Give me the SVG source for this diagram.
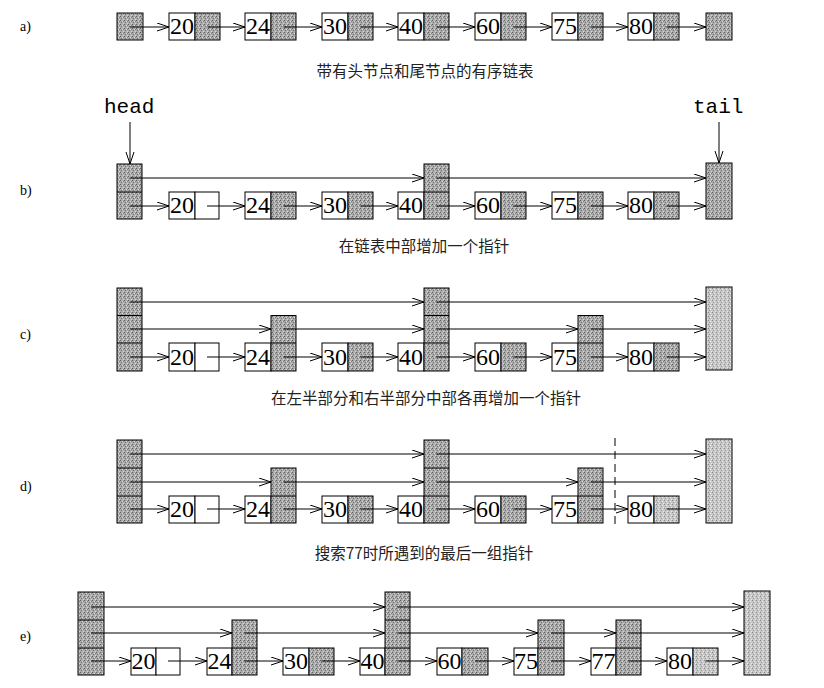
<svg xmlns="http://www.w3.org/2000/svg" width="824" height="688" viewBox="0 0 824 688">
<defs>
<pattern id="stip" width="4" height="4" patternUnits="userSpaceOnUse">
<rect width="4" height="4" fill="#ababab"/>
<rect x="0" y="0" width="1" height="1" fill="#5e5e5e"/>
<rect x="2" y="1" width="1" height="1" fill="#dcdcdc"/>
<rect x="1" y="2" width="1" height="1" fill="#707070"/>
<rect x="3" y="3" width="1" height="1" fill="#d6d6d6"/>
<rect x="3" y="1" width="1" height="1" fill="#808080"/>
</pattern>
<pattern id="stipL" width="4" height="4" patternUnits="userSpaceOnUse">
<rect width="4" height="4" fill="#c6c6c6"/>
<rect x="0" y="0" width="1" height="1" fill="#888"/>
<rect x="2" y="1" width="1" height="1" fill="#eee"/>
<rect x="1" y="2" width="1" height="1" fill="#999"/>
<rect x="3" y="3" width="1" height="1" fill="#eaeaea"/>
</pattern>
<marker id="ah" markerWidth="13" markerHeight="10" refX="12" refY="4.5" orient="auto" markerUnits="userSpaceOnUse">
<path d="M0,0.5 L12,4.5 L0,8.5" fill="none" stroke="#000" stroke-width="1"/>
</marker>
</defs>
<style>
.k{fill:#fff;stroke:#000;stroke-width:1}
.p{fill:url(#stip);stroke:#000;stroke-width:1}
.pl{fill:url(#stipL);stroke:#000;stroke-width:1}
.dv{stroke:#000;stroke-width:1}
.n{font-family:"Liberation Serif",serif;font-size:24px;text-anchor:middle;fill:#000}
.cap{font-family:"Noto Sans CJK SC",sans-serif;font-size:15.5px;text-anchor:middle;fill:#222}
.lbl{font-family:"Liberation Serif",serif;font-size:14px;fill:#000}
.mono{font-family:"Liberation Mono",monospace;font-size:21px;fill:#000}
.cn line{stroke:#000;stroke-width:1;fill:none;marker-end:url(#ah)}
.dash{stroke:#000;stroke-width:1;stroke-dasharray:8,5}
</style>
<rect width="824" height="688" fill="#fff"/>

<!-- row labels -->
<text class="lbl" x="20" y="31">a)</text>
<text class="lbl" x="20" y="195">b)</text>
<text class="lbl" x="20" y="339">c)</text>
<text class="lbl" x="20" y="491">d)</text>
<text class="lbl" x="20" y="641">e)</text>

<!-- ===== Row a ===== -->
<g id="a-head"><rect class="p" x="117" y="13" width="26" height="27"/></g>
<g id="a-20"><rect class="k" x="169" y="13" width="26" height="27"/><rect class="p" x="195" y="13" width="25" height="27"/><text class="n" x="182" y="34">20</text></g>
<g id="a-24"><rect class="k" x="245" y="13" width="26" height="27"/><rect class="p" x="271" y="13" width="25" height="27"/><text class="n" x="258" y="34">24</text></g>
<g id="a-30"><rect class="k" x="322" y="13" width="26" height="27"/><rect class="p" x="348" y="13" width="25" height="27"/><text class="n" x="335" y="34">30</text></g>
<g id="a-40"><rect class="k" x="398" y="13" width="26" height="27"/><rect class="p" x="424" y="13" width="25" height="27"/><text class="n" x="411" y="34">40</text></g>
<g id="a-60"><rect class="k" x="475" y="13" width="26" height="27"/><rect class="p" x="501" y="13" width="25" height="27"/><text class="n" x="488" y="34">60</text></g>
<g id="a-75"><rect class="k" x="552" y="13" width="26" height="27"/><rect class="p" x="578" y="13" width="25" height="27"/><text class="n" x="565" y="34">75</text></g>
<g id="a-80"><rect class="k" x="628" y="13" width="26" height="27"/><rect class="p" x="654" y="13" width="25" height="27"/><text class="n" x="641" y="34">80</text></g>
<g id="a-tail"><rect class="p" x="706" y="13" width="26" height="27"/></g>
<text class="cap" x="425" y="77">带有头节点和尾节点的有序链表</text>

<!-- ===== Row b ===== -->
<text class="mono" x="104" y="113">head</text>
<text class="mono" x="693" y="113">tail</text>
<g id="b-head"><rect class="p" x="117" y="164" width="25" height="55"/><line class="dv" x1="117" y1="192" x2="142" y2="192"/></g>
<g id="b-20"><rect class="k" x="169" y="192" width="26" height="27"/><rect class="k" x="195" y="192" width="24" height="27"/><text class="n" x="182" y="213">20</text></g>
<g id="b-24"><rect class="k" x="245" y="192" width="26" height="27"/><rect class="p" x="271" y="192" width="25" height="27"/><text class="n" x="258" y="213">24</text></g>
<g id="b-30"><rect class="k" x="322" y="192" width="26" height="27"/><rect class="p" x="348" y="192" width="25" height="27"/><text class="n" x="335" y="213">30</text></g>
<g id="b-40"><rect class="k" x="398" y="192" width="26" height="27"/><rect class="p" x="424" y="164" width="25" height="55"/><line class="dv" x1="424" y1="192" x2="449" y2="192"/><text class="n" x="411" y="213">40</text></g>
<g id="b-60"><rect class="k" x="475" y="192" width="26" height="27"/><rect class="p" x="501" y="192" width="25" height="27"/><text class="n" x="488" y="213">60</text></g>
<g id="b-75"><rect class="k" x="552" y="192" width="26" height="27"/><rect class="p" x="578" y="192" width="25" height="27"/><text class="n" x="565" y="213">75</text></g>
<g id="b-80"><rect class="k" x="628" y="192" width="26" height="27"/><rect class="p" x="654" y="192" width="25" height="27"/><text class="n" x="641" y="213">80</text></g>
<g id="b-tail"><rect class="p" x="706" y="163" width="26" height="56"/></g>
<text class="cap" x="424" y="252">在链表中部增加一个指针</text>

<!-- ===== Row c ===== -->
<g id="c-head"><rect class="p" x="117" y="288" width="25" height="83"/><line class="dv" x1="117" y1="315.5" x2="142" y2="315.5"/><line class="dv" x1="117" y1="343" x2="142" y2="343"/></g>
<g id="c-20"><rect class="k" x="169" y="343" width="26" height="28"/><rect class="k" x="195" y="343" width="24" height="28"/><text class="n" x="182" y="365">20</text></g>
<g id="c-24"><rect class="k" x="245" y="343" width="26" height="28"/><rect class="p" x="271" y="315.5" width="25" height="55.5"/><line class="dv" x1="271" y1="343" x2="296" y2="343"/><text class="n" x="258" y="365">24</text></g>
<g id="c-30"><rect class="k" x="322" y="343" width="26" height="28"/><rect class="p" x="348" y="343" width="25" height="28"/><text class="n" x="335" y="365">30</text></g>
<g id="c-40"><rect class="k" x="398" y="343" width="26" height="28"/><rect class="p" x="424" y="288" width="25" height="83"/><line class="dv" x1="424" y1="315.5" x2="449" y2="315.5"/><line class="dv" x1="424" y1="343" x2="449" y2="343"/><text class="n" x="411" y="365">40</text></g>
<g id="c-60"><rect class="k" x="475" y="343" width="26" height="28"/><rect class="p" x="501" y="343" width="25" height="28"/><text class="n" x="488" y="365">60</text></g>
<g id="c-75"><rect class="k" x="552" y="343" width="26" height="28"/><rect class="p" x="578" y="315.5" width="25" height="55.5"/><line class="dv" x1="578" y1="343" x2="603" y2="343"/><text class="n" x="565" y="365">75</text></g>
<g id="c-80"><rect class="k" x="628" y="343" width="26" height="28"/><rect class="p" x="654" y="343" width="25" height="28"/><text class="n" x="641" y="365">80</text></g>
<g id="c-tail"><rect class="pl" x="706" y="287" width="26" height="83"/></g>
<text class="cap" x="426" y="404">在左半部分和右半部分中部各再增加一个指针</text>

<!-- ===== Row d ===== -->
<g id="d-head"><rect class="p" x="117" y="440" width="25" height="83"/><line class="dv" x1="117" y1="468" x2="142" y2="468"/><line class="dv" x1="117" y1="496" x2="142" y2="496"/></g>
<g id="d-20"><rect class="k" x="169" y="496" width="26" height="27"/><rect class="k" x="195" y="496" width="24" height="27"/><text class="n" x="182" y="517">20</text></g>
<g id="d-24"><rect class="k" x="245" y="496" width="26" height="27"/><rect class="p" x="271" y="468" width="25" height="55"/><line class="dv" x1="271" y1="496" x2="296" y2="496"/><text class="n" x="258" y="517">24</text></g>
<g id="d-30"><rect class="k" x="322" y="496" width="26" height="27"/><rect class="p" x="348" y="496" width="25" height="27"/><text class="n" x="335" y="517">30</text></g>
<g id="d-40"><rect class="k" x="398" y="496" width="26" height="27"/><rect class="p" x="424" y="440" width="25" height="83"/><line class="dv" x1="424" y1="468" x2="449" y2="468"/><line class="dv" x1="424" y1="496" x2="449" y2="496"/><text class="n" x="411" y="517">40</text></g>
<g id="d-60"><rect class="k" x="475" y="496" width="26" height="27"/><rect class="p" x="501" y="496" width="25" height="27"/><text class="n" x="488" y="517">60</text></g>
<g id="d-75"><rect class="k" x="552" y="496" width="26" height="27"/><rect class="p" x="578" y="468" width="25" height="55"/><line class="dv" x1="578" y1="496" x2="603" y2="496"/><text class="n" x="565" y="517">75</text></g>
<g id="d-80"><rect class="k" x="628" y="496" width="26" height="27"/><rect class="pl" x="654" y="496" width="25" height="27"/><text class="n" x="641" y="517">80</text></g>
<g id="d-tail"><rect class="pl" x="706" y="439" width="26" height="84"/></g>
<line class="dash" x1="615" y1="438" x2="615" y2="524"/>
<text class="cap" x="424" y="559">搜索77时所遇到的最后一组指针</text>

<!-- ===== Row e ===== -->
<g id="e-head"><rect class="p" x="78" y="592" width="26" height="83"/><line class="dv" x1="78" y1="620" x2="104" y2="620"/><line class="dv" x1="78" y1="648" x2="104" y2="648"/></g>
<g id="e-20"><rect class="k" x="131" y="648" width="25" height="27"/><rect class="k" x="156" y="648" width="24" height="27"/><text class="n" x="143.5" y="669">20</text></g>
<g id="e-24"><rect class="k" x="207" y="648" width="25" height="27"/><rect class="p" x="232" y="620" width="25" height="55"/><line class="dv" x1="232" y1="648" x2="257" y2="648"/><text class="n" x="219.5" y="669">24</text></g>
<g id="e-30"><rect class="k" x="283" y="648" width="26" height="27"/><rect class="p" x="309" y="648" width="25" height="27"/><text class="n" x="296" y="669">30</text></g>
<g id="e-40"><rect class="k" x="360" y="648" width="25" height="27"/><rect class="p" x="385" y="592" width="25" height="83"/><line class="dv" x1="385" y1="620" x2="410" y2="620"/><line class="dv" x1="385" y1="648" x2="410" y2="648"/><text class="n" x="372.5" y="669">40</text></g>
<g id="e-60"><rect class="k" x="437" y="648" width="25" height="27"/><rect class="p" x="462" y="648" width="26" height="27"/><text class="n" x="449.5" y="669">60</text></g>
<g id="e-75"><rect class="k" x="514" y="648" width="24" height="27"/><rect class="p" x="538" y="620" width="26" height="55"/><line class="dv" x1="538" y1="648" x2="564" y2="648"/><text class="n" x="526" y="669">75</text></g>
<g id="e-77"><rect class="k" x="591" y="648" width="25" height="27"/><rect class="p" x="616" y="620" width="25" height="55"/><line class="dv" x1="616" y1="648" x2="641" y2="648"/><text class="n" x="603.5" y="669">77</text></g>
<g id="e-80"><rect class="k" x="667" y="648" width="26" height="27"/><rect class="pl" x="693" y="648" width="25" height="27"/><text class="n" x="680" y="669">80</text></g>
<g id="e-tail"><rect class="pl" x="744" y="591" width="26" height="84"/></g>

<!-- ===== Connectors ===== -->
<g id="connectors" class="cn">
<!-- a -->
<line x1="130" y1="27" x2="169" y2="27"/>
<line x1="207.5" y1="27" x2="245" y2="27"/>
<line x1="283.5" y1="27" x2="322" y2="27"/>
<line x1="360.5" y1="27" x2="398" y2="27"/>
<line x1="436.5" y1="27" x2="475" y2="27"/>
<line x1="513.5" y1="27" x2="552" y2="27"/>
<line x1="590.5" y1="27" x2="628" y2="27"/>
<line x1="666.5" y1="27" x2="706" y2="27"/>
<!-- b -->
<line x1="130" y1="122" x2="130" y2="164"/>
<line x1="719" y1="122" x2="719" y2="163"/>
<line x1="130" y1="178" x2="424" y2="178"/>
<line x1="436.5" y1="178" x2="706" y2="178"/>
<line x1="130" y1="206" x2="169" y2="206"/>
<line x1="207" y1="206" x2="245" y2="206"/>
<line x1="283.5" y1="206" x2="322" y2="206"/>
<line x1="360.5" y1="206" x2="398" y2="206"/>
<line x1="436.5" y1="206" x2="475" y2="206"/>
<line x1="513.5" y1="206" x2="552" y2="206"/>
<line x1="590.5" y1="206" x2="628" y2="206"/>
<line x1="666.5" y1="206" x2="706" y2="206"/>
<!-- c -->
<line x1="130" y1="302" x2="424" y2="302"/>
<line x1="436.5" y1="302" x2="706" y2="302"/>
<line x1="130" y1="329" x2="271" y2="329"/>
<line x1="283.5" y1="329" x2="424" y2="329"/>
<line x1="436.5" y1="329" x2="578" y2="329"/>
<line x1="590.5" y1="329" x2="706" y2="329"/>
<line x1="130" y1="357" x2="169" y2="357"/>
<line x1="207" y1="357" x2="245" y2="357"/>
<line x1="283.5" y1="357" x2="322" y2="357"/>
<line x1="360.5" y1="357" x2="398" y2="357"/>
<line x1="436.5" y1="357" x2="475" y2="357"/>
<line x1="513.5" y1="357" x2="552" y2="357"/>
<line x1="590.5" y1="357" x2="628" y2="357"/>
<line x1="666.5" y1="357" x2="706" y2="357"/>
<!-- d -->
<line x1="130" y1="454" x2="424" y2="454"/>
<line x1="436.5" y1="454" x2="706" y2="454"/>
<line x1="130" y1="482" x2="271" y2="482"/>
<line x1="283.5" y1="482" x2="424" y2="482"/>
<line x1="436.5" y1="482" x2="578" y2="482"/>
<line x1="590.5" y1="482" x2="706" y2="482"/>
<line x1="130" y1="509" x2="169" y2="509"/>
<line x1="207" y1="509" x2="245" y2="509"/>
<line x1="283.5" y1="509" x2="322" y2="509"/>
<line x1="360.5" y1="509" x2="398" y2="509"/>
<line x1="436.5" y1="509" x2="475" y2="509"/>
<line x1="513.5" y1="509" x2="552" y2="509"/>
<line x1="590.5" y1="509" x2="628" y2="509"/>
<line x1="666.5" y1="509" x2="706" y2="509"/>
<!-- e -->
<line x1="91" y1="607" x2="385" y2="607"/>
<line x1="397.5" y1="607" x2="744" y2="607"/>
<line x1="91" y1="633" x2="232" y2="633"/>
<line x1="244.5" y1="633" x2="385" y2="633"/>
<line x1="397.5" y1="633" x2="538" y2="633"/>
<line x1="551" y1="633" x2="616" y2="633"/>
<line x1="628.5" y1="633" x2="744" y2="633"/>
<line x1="91" y1="661" x2="131" y2="661"/>
<line x1="168" y1="661" x2="207" y2="661"/>
<line x1="244.5" y1="661" x2="283" y2="661"/>
<line x1="321.5" y1="661" x2="360" y2="661"/>
<line x1="397.5" y1="661" x2="437" y2="661"/>
<line x1="475" y1="661" x2="514" y2="661"/>
<line x1="551" y1="661" x2="591" y2="661"/>
<line x1="628.5" y1="661" x2="667" y2="661"/>
<line x1="705.5" y1="661" x2="744" y2="661"/>
</g>
</svg>
